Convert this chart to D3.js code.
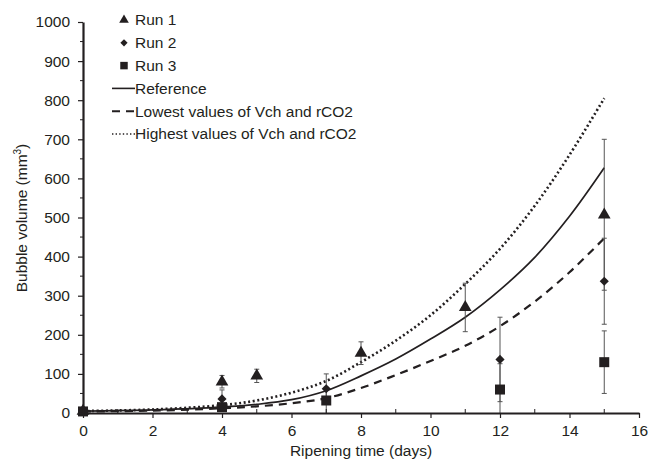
<!DOCTYPE html>
<html>
<head>
<meta charset="utf-8">
<script src="https://cdn.jsdelivr.net/npm/d3@7"></script>
<style>
  body { margin: 0; background: #fff; }
  text { font-family: "Liberation Sans", Arial, sans-serif; fill: #231f20; }
</style>
</head>
<body>
<svg id="chart" width="661" height="463"></svg>
<script>
// Measured runs (day, volume, error)
const run1 = [
  { day: 0, v: 5, e: 0 },
  { day: 4, v: 80, e: 16 },
  { day: 5, v: 95, e: 17 },
  { day: 8, v: 153, e: 29 },
  { day: 11, v: 270, e: 62 },
  { day: 15, v: 507, e: 193 },
];
const run2 = [
  { day: 0, v: 5, e: 0 },
  { day: 4, v: 36, e: 23 },
  { day: 7, v: 62, e: 38 },
  { day: 12, v: 137, e: 108 },
  { day: 15, v: 337, e: 110 },
];
const run3 = [
  { day: 0, v: 4, e: 0 },
  { day: 4, v: 15, e: 8 },
  { day: 7, v: 32, e: 34 },
  { day: 12, v: 60, e: 66 },
  { day: 15, v: 130, e: 80 },
];

// Model curves
const curveDays = [0, 2, 4, 5, 6, 7, 8, 9, 10, 11, 12, 13, 14, 15];
const reference = [5, 8, 15, 22, 34, 57, 95, 138, 189, 245, 315, 398, 503, 627];
const lowest = [4, 6, 12, 17, 25, 38, 64, 97, 133, 172, 222, 285, 360, 447];
const highest = [5, 9, 20, 32, 52, 82, 130, 185, 250, 330, 420, 530, 660, 805];

const xTicks = [0, 2, 4, 6, 8, 10, 12, 14, 16];
const yTicks = [0, 100, 200, 300, 400, 500, 600, 700, 800, 900, 1000];

const svg = d3.select("#chart");
const x = d3.scaleLinear().domain([0, 16]).range([83, 639]);
const y = d3.scaleLinear().domain([0, 1000]).range([413, 22]);
const ink = "#231f20";

// curves
const line = d3.line()
  .x((d, i) => x(curveDays[i]))
  .y((d) => y(d))
  .curve(d3.curveCatmullRom.alpha(0.5));

svg.append("path").attr("d", line(reference))
  .attr("fill", "none").attr("stroke", ink).attr("stroke-width", 1.7);
svg.append("path").attr("d", line(lowest))
  .attr("fill", "none").attr("stroke", ink).attr("stroke-width", 2.2)
  .attr("stroke-dasharray", "8,6");
svg.append("path").attr("d", line(highest))
  .attr("fill", "none").attr("stroke", ink).attr("stroke-width", 2.6)
  .attr("stroke-dasharray", "2,2.6");

// error bars
function errorBars(data) {
  const g = svg.append("g").attr("stroke", "#555").attr("stroke-width", 1);
  data.filter((d) => d.e > 0).forEach((d) => {
    const lo = Math.max(0, d.v - d.e), hi = d.v + d.e;
    g.append("line").attr("x1", x(d.day)).attr("x2", x(d.day))
      .attr("y1", y(lo)).attr("y2", y(hi));
    g.append("line").attr("x1", x(d.day) - 2.5).attr("x2", x(d.day) + 2.5)
      .attr("y1", y(hi)).attr("y2", y(hi));
    if (d.v - d.e > 0) {
      g.append("line").attr("x1", x(d.day) - 2.5).attr("x2", x(d.day) + 2.5)
        .attr("y1", y(lo)).attr("y2", y(lo));
    }
  });
}
errorBars(run1);
errorBars(run2);
errorBars(run3);

// markers (diamond is a square turned 45 degrees)
const triangle = d3.symbol().type(d3.symbolTriangle).size(70);
const diamond = d3.symbol().type(d3.symbolSquare).size(42);
const square = d3.symbol().type(d3.symbolSquare).size(100);

function markers(data, sym, rot) {
  svg.append("g").selectAll("path").data(data).enter().append("path")
    .attr("d", sym)
    .attr("transform", (d) => "translate(" + x(d.day) + "," + y(d.v) + ") rotate(" + rot + ")")
    .attr("fill", ink);
}
markers(run3, square, 0);
markers(run2, diamond, 45);
markers(run1, triangle, 0);

// axes
const xAxis = svg.append("g").attr("transform", "translate(0," + y(0) + ")");
xAxis.call(d3.axisBottom(x).tickValues(xTicks).tickSize(5).tickSizeOuter(0))
  .call((g) => g.select(".domain").attr("stroke", ink).attr("stroke-width", 2.2))
  .call((g) => g.selectAll(".tick line").attr("stroke", ink).attr("stroke-width", 1.2))
  .call((g) => g.selectAll(".tick text").attr("font-size", 15.5)
    .attr("font-family", "Liberation Sans, Arial, sans-serif").attr("fill", ink).attr("dy", "0.95em"));
xAxis.selectAll(".minor").data(d3.range(1, 16, 2)).enter().append("line")
  .attr("x1", (d) => x(d)).attr("x2", (d) => x(d))
  .attr("y1", 0).attr("y2", -4).attr("stroke", ink).attr("stroke-width", 1);

const yAxis = svg.append("g").attr("transform", "translate(" + x(0) + ",0)");
yAxis.call(d3.axisLeft(y).tickValues(yTicks).tickFormat(d3.format("d")).tickSize(5).tickPadding(8).tickSizeOuter(0))
  .call((g) => g.select(".domain").attr("stroke", ink).attr("stroke-width", 2.2))
  .call((g) => g.selectAll(".tick line").attr("stroke", ink).attr("stroke-width", 1.2))
  .call((g) => g.selectAll(".tick text").attr("font-size", 15.5)
    .attr("font-family", "Liberation Sans, Arial, sans-serif").attr("fill", ink));
yAxis.selectAll(".minor").data(d3.range(50, 1000, 100)).enter().append("line")
  .attr("x1", 0).attr("x2", -3)
  .attr("y1", (d) => y(d)).attr("y2", (d) => y(d)).attr("stroke", ink).attr("stroke-width", 1);

// axis titles
svg.append("text").attr("x", (x(0) + x(16)) / 2).attr("y", 456)
  .attr("text-anchor", "middle").attr("font-size", 15.5).text("Ripening time (days)");
const yt = svg.append("text").attr("transform", "translate(27,218) rotate(-90)")
  .attr("text-anchor", "middle").attr("font-size", 15.5);
yt.append("tspan").text("Bubble volume (mm");
yt.append("tspan").attr("font-size", 10).attr("dy", -6).text("3");
yt.append("tspan").attr("dy", 6).text(")");

// legend
const legend = [
  { label: "Run 1", sym: d3.symbol().type(d3.symbolTriangle).size(40), rot: 0 },
  { label: "Run 2", sym: d3.symbol().type(d3.symbolSquare).size(26), rot: 45 },
  { label: "Run 3", sym: d3.symbol().type(d3.symbolSquare).size(56), rot: 0 },
  { label: "Reference", dash: null, w: 1.6 },
  { label: "Lowest values of Vch and rCO2", dash: "8,6", w: 2 },
  { label: "Highest values of Vch and rCO2", dash: "1.4,2.2", w: 1.6 },
];
const lg = svg.append("g");
legend.forEach((d, i) => {
  const ly = 20 + i * 22.8;
  if (d.sym) {
    lg.append("path").attr("d", d.sym)
      .attr("transform", "translate(124," + ly + ") rotate(" + d.rot + ")").attr("fill", ink);
  } else {
    lg.append("line").attr("x1", 112).attr("x2", 135).attr("y1", ly).attr("y2", ly)
      .attr("stroke", ink).attr("stroke-width", d.w)
      .attr("stroke-dasharray", d.dash);
  }
  lg.append("text").attr("x", 135).attr("y", ly).attr("dy", "0.35em")
    .attr("font-size", 15.5).text(d.label);
});
</script>
</body>
</html>
